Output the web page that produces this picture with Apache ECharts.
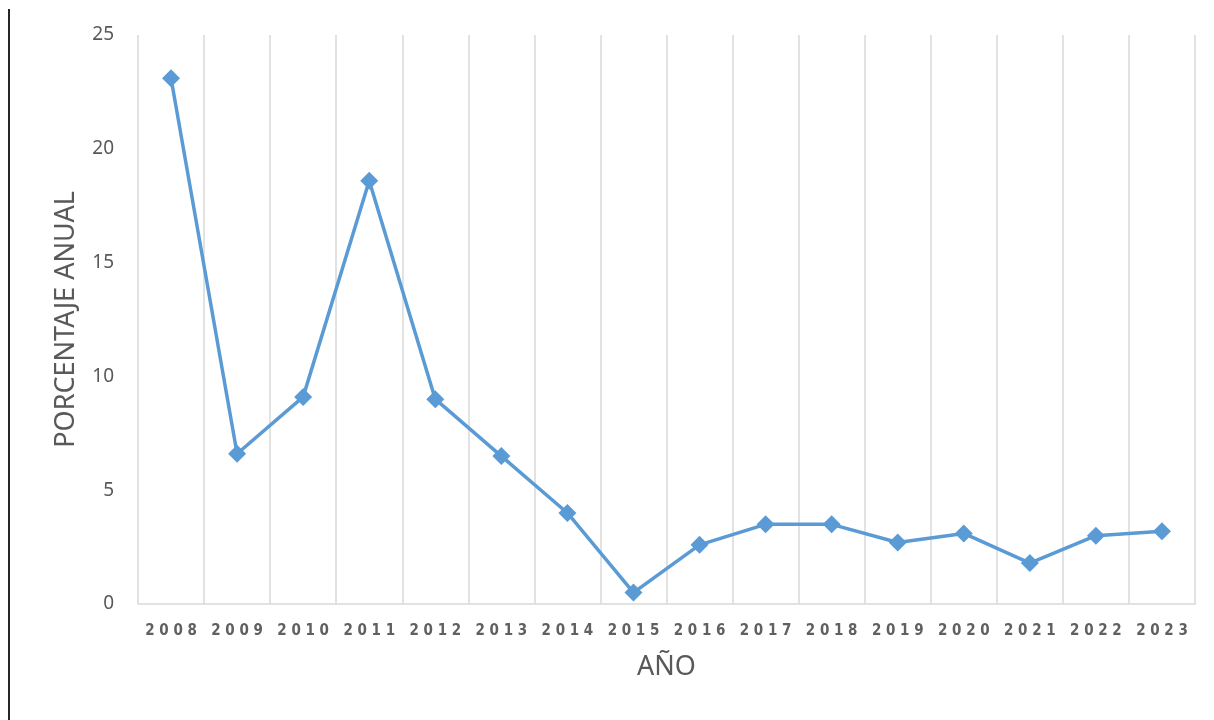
<!DOCTYPE html>
<html>
<head>
<meta charset="utf-8">
<script src="https://cdn.jsdelivr.net/npm/echarts@6/dist/echarts.min.js"></script>
<style>
html,body{margin:0;padding:0;background:#fff;}
#chart{width:1214px;height:720px;}
</style>
</head>
<body>
<div id="chart"></div>
<script>
const years = ['2008','2009','2010','2011','2012','2013','2014','2015','2016','2017','2018','2019','2020','2021','2022','2023'];
const values = [23.1, 6.6, 9.1, 18.6, 9.0, 6.5, 4.0, 0.5, 2.6, 3.5, 3.5, 2.7, 3.1, 1.8, 3.0, 3.2];
const yTicks = [0, 5, 10, 15, 20, 25];
const yAxisName = 'PORCENTAJE ANUAL';
const xAxisName = 'AÑO';

const chart = echarts.init(document.getElementById('chart'), null, {renderer: 'canvas'});
chart.setOption({
  animation: false,
  backgroundColor: '#ffffff',
  grid: {left: 138, right: 19, top: 35, bottom: 116},
  graphic: [{
    type: 'line',
    shape: {x1: 9, y1: 9, x2: 9, y2: 720},
    style: {stroke: '#262626', lineWidth: 2}
  }],
  xAxis: {
    type: 'category',
    data: years,
    boundaryGap: true,
    name: xAxisName,
    nameLocation: 'middle',
    nameGap: 50,
    nameTextStyle: {fontFamily: 'Noto Sans', fontSize: 27, color: '#595959'},
    axisLine: {show: true, lineStyle: {color: '#d9d9d9', width: 1.5}},
    axisTick: {show: false, interval: 0},
    splitLine: {show: true, interval: 0, lineStyle: {color: '#d9d9d9', width: 1.5}},
    axisLabel: {
      interval: 0,
      margin: 20,
      fontFamily: 'DejaVu Sans Condensed',
      fontWeight: 'bold',
      fontSize: 15,
      color: '#606060',
      formatter: v => v.split('').join(' ')
    }
  },
  yAxis: {
    type: 'value',
    min: yTicks[0],
    max: yTicks[yTicks.length - 1],
    interval: 5,
    name: yAxisName,
    nameLocation: 'middle',
    nameGap: 58,
    nameTextStyle: {fontFamily: 'Noto Sans', fontSize: 27, color: '#595959'},
    axisLine: {show: false},
    axisTick: {show: false},
    splitLine: {show: false},
    axisLabel: {margin: 24, fontFamily: 'Noto Sans', fontSize: 19, color: '#595959'}
  },
  series: [{
    type: 'line',
    data: values,
    symbol: 'diamond',
    symbolSize: 18,
    showSymbol: true,
    lineStyle: {color: '#5b9bd5', width: 3.5},
    itemStyle: {color: '#5b9bd5'}
  }]
});
</script>
</body>
</html>
